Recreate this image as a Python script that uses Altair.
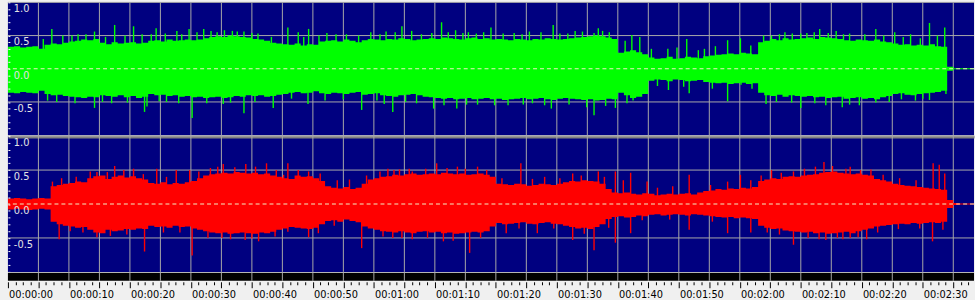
import json
import altair as alt
import pandas as pd

# ---------------- data ----------------
T0 = -5  # first second covered by the envelope arrays (one value per second)

GREEN_HI = [
    0.33, 0.34, 0.32, 0.33, 0.34, 0.30, 0.36, 0.38, 0.37, 0.39,
    0.41, 0.42, 0.44, 0.43, 0.45, 0.39, 0.37, 0.40, 0.38, 0.39,
    0.40, 0.38, 0.39, 0.42, 0.43, 0.41, 0.44, 0.42, 0.43, 0.44,
    0.43, 0.44, 0.46, 0.48, 0.49, 0.48, 0.50, 0.49, 0.48, 0.47,
    0.45, 0.44, 0.42, 0.39, 0.38, 0.37, 0.36, 0.38, 0.35, 0.37,
    0.36, 0.41, 0.42, 0.43, 0.41, 0.44, 0.42, 0.40, 0.43, 0.45,
    0.44, 0.43, 0.45, 0.44, 0.46, 0.45, 0.43, 0.44, 0.45, 0.46,
    0.45, 0.47, 0.46, 0.45, 0.44, 0.46, 0.47, 0.45, 0.46, 0.44,
    0.45, 0.44, 0.43, 0.45, 0.44, 0.43, 0.45, 0.44, 0.46, 0.45,
    0.44, 0.45, 0.46, 0.47, 0.48, 0.49, 0.50, 0.49, 0.47, 0.45,
    0.24, 0.26, 0.28, 0.25, 0.22, 0.17, 0.15, 0.16, 0.18, 0.15,
    0.16, 0.18, 0.17, 0.16, 0.19, 0.20, 0.21, 0.22, 0.23, 0.22,
    0.24, 0.23, 0.22, 0.40, 0.42, 0.45, 0.43, 0.46, 0.44, 0.45,
    0.46, 0.47, 0.45, 0.48, 0.47, 0.46, 0.45, 0.43, 0.42, 0.44,
    0.43, 0.42, 0.44, 0.41, 0.40, 0.38, 0.36, 0.37, 0.35, 0.36,
    0.35, 0.37, 0.34, 0.33, 0.03, 0.008, 0.006, 0.006, 0.006,
]
GREEN_LO = [
    -0.36, -0.37, -0.35, -0.36, -0.37, -0.33, -0.38, -0.40, -0.39, -0.41,
    -0.42, -0.43, -0.44, -0.42, -0.43, -0.40, -0.41, -0.42, -0.40, -0.43,
    -0.41, -0.44, -0.42, -0.38, -0.40, -0.39, -0.41, -0.40, -0.42, -0.41,
    -0.43, -0.42, -0.44, -0.43, -0.42, -0.44, -0.43, -0.41, -0.42, -0.40,
    -0.41, -0.40, -0.42, -0.41, -0.39, -0.38, -0.36, -0.35, -0.37, -0.36,
    -0.34, -0.37, -0.38, -0.36, -0.37, -0.38, -0.36, -0.35, -0.39, -0.38,
    -0.37, -0.40, -0.41, -0.42, -0.40, -0.39, -0.38, -0.40, -0.42, -0.43,
    -0.44, -0.45, -0.44, -0.46, -0.45, -0.44, -0.46, -0.45, -0.44, -0.46,
    -0.45, -0.47, -0.46, -0.45, -0.44, -0.46, -0.45, -0.44, -0.46, -0.47,
    -0.45, -0.44, -0.45, -0.46, -0.47, -0.46, -0.48, -0.47, -0.45, -0.46,
    -0.36, -0.40, -0.44, -0.42, -0.38, -0.18, -0.16, -0.17, -0.19, -0.16,
    -0.17, -0.19, -0.18, -0.17, -0.20, -0.21, -0.22, -0.21, -0.23, -0.22,
    -0.21, -0.23, -0.22, -0.36, -0.40, -0.41, -0.39, -0.42, -0.40, -0.41,
    -0.42, -0.41, -0.43, -0.42, -0.44, -0.43, -0.42, -0.45, -0.44, -0.43,
    -0.45, -0.44, -0.46, -0.43, -0.41, -0.38, -0.37, -0.39, -0.40, -0.38,
    -0.37, -0.36, -0.35, -0.33, -0.03, -0.008, -0.006, -0.006, -0.006,
]
RED_HI = [
    0.08, 0.09, 0.08, 0.07, 0.08, 0.09, 0.08, 0.26, 0.28, 0.30,
    0.31, 0.33, 0.32, 0.38, 0.41, 0.42, 0.37, 0.40, 0.42, 0.39,
    0.41, 0.38, 0.36, 0.31, 0.30, 0.32, 0.29, 0.31, 0.30, 0.32,
    0.34, 0.38, 0.42, 0.44, 0.45, 0.46, 0.45, 0.47, 0.46, 0.45,
    0.46, 0.44, 0.45, 0.42, 0.40, 0.38, 0.37, 0.42, 0.40, 0.41,
    0.38, 0.34, 0.26, 0.24, 0.23, 0.25, 0.22, 0.24, 0.30, 0.36,
    0.38, 0.40, 0.41, 0.43, 0.42, 0.44, 0.45, 0.43, 0.44, 0.45,
    0.44, 0.46, 0.45, 0.44, 0.45, 0.43, 0.44, 0.45, 0.43, 0.40,
    0.30, 0.29, 0.28, 0.30, 0.29, 0.27, 0.28, 0.30, 0.29, 0.28,
    0.30, 0.32, 0.34, 0.33, 0.35, 0.34, 0.33, 0.30, 0.22, 0.17,
    0.16, 0.17, 0.15, 0.14, 0.16, 0.15, 0.13, 0.14, 0.15, 0.14,
    0.15, 0.16, 0.14, 0.17, 0.19, 0.20, 0.22, 0.21, 0.23, 0.22,
    0.24, 0.23, 0.25, 0.34, 0.36, 0.38, 0.37, 0.40, 0.41, 0.40,
    0.42, 0.43, 0.44, 0.46, 0.47, 0.48, 0.46, 0.45, 0.44, 0.45,
    0.43, 0.42, 0.37, 0.35, 0.33, 0.30, 0.28, 0.27, 0.26, 0.25,
    0.24, 0.23, 0.22, 0.21, 0.06, 0.015, 0.006, 0.006, 0.006,
]
RED_LO = [
    -0.08, -0.07, -0.08, -0.09, -0.08, -0.07, -0.08, -0.26, -0.30, -0.32,
    -0.33, -0.35, -0.34, -0.38, -0.42, -0.43, -0.38, -0.40, -0.39, -0.37,
    -0.38, -0.36, -0.37, -0.32, -0.34, -0.33, -0.35, -0.32, -0.34, -0.33,
    -0.36, -0.38, -0.40, -0.42, -0.43, -0.42, -0.44, -0.43, -0.42, -0.43,
    -0.44, -0.42, -0.43, -0.41, -0.38, -0.36, -0.34, -0.35, -0.36, -0.37,
    -0.35, -0.30, -0.25, -0.24, -0.26, -0.23, -0.25, -0.27, -0.33, -0.36,
    -0.38, -0.40, -0.41, -0.42, -0.40, -0.42, -0.43, -0.41, -0.40, -0.42,
    -0.41, -0.43, -0.42, -0.44, -0.43, -0.42, -0.41, -0.42, -0.40, -0.33,
    -0.28, -0.30, -0.29, -0.28, -0.27, -0.29, -0.30, -0.28, -0.27, -0.29,
    -0.30, -0.32, -0.34, -0.36, -0.35, -0.37, -0.34, -0.30, -0.22, -0.19,
    -0.18, -0.20, -0.19, -0.17, -0.18, -0.16, -0.15, -0.17, -0.16, -0.15,
    -0.16, -0.17, -0.15, -0.16, -0.17, -0.18, -0.19, -0.20, -0.19, -0.21,
    -0.20, -0.21, -0.22, -0.32, -0.35, -0.37, -0.36, -0.39, -0.40, -0.41,
    -0.42, -0.41, -0.43, -0.42, -0.44, -0.43, -0.42, -0.41, -0.43, -0.40,
    -0.38, -0.36, -0.33, -0.32, -0.31, -0.30, -0.29, -0.30, -0.28, -0.29,
    -0.28, -0.27, -0.28, -0.26, -0.06, -0.015, -0.006, -0.006, -0.006,
]

# isolated peaks (seconds, amplitude)
GREEN_SPIKE_T = [
    2.2, 4.0, 6.5, 9.2, 12.5, 15.6, 17.0, 19.3, 22.7, 24.7, 27.1, 29.3, 31.8,
    33.7, 36.0, 40.9, 42.6, 44.3, 47.3, 50.5, 54.5, 57.0, 59.6, 61.2, 64.5,
    66.1, 68.4, 70.5, 73.0, 74.2, 78.0, 80.5, 84.4, 85.5, 88.0, 91.1, 91.8,
    92.5, 97.3, 98.6, 103.2, 106.3, 108.2, 109.2, 113.0, 115.1, 116.8, 120.2,
    122.4, 125.0, 126.0, 128.1, 130.8, 133.0, 137.3, 140.4, 143.0, 146.1, 148.6,
    0.8, 5.5, 7.8, 11.0, 14.2, 18.5, 20.8, 23.5, 26.0, 28.3, 30.5, 32.6, 35.0,
    38.2, 43.5, 46.0, 48.8, 52.5, 56.0, 58.5, 62.8, 67.2, 69.6, 71.8, 76.2,
    79.3, 82.4, 86.8, 89.2, 93.6, 96.2, 100.5, 104.7, 111.0, 118.9, 121.5,
    123.6, 127.2, 129.5, 132.0, 135.5, 138.6, 141.8, 144.6, 147.4,
    3.0, 9.2, 12.0, 17.4, 17.8, 21.0, 25.2, 30.3, 33.7, 38.5, 44.2, 47.0,
    53.0, 56.7, 58.1, 62.0, 64.8, 68.6, 72.0, 77.0, 81.0, 84.1, 89.9, 91.1,
    94.6, 97.5, 103.3, 106.7, 113.0, 115.2, 119.3, 125.0, 129.1, 131.8, 134.6,
    137.3, 143.8, 146.1, 148.8,
    1.5, 6.0, 10.5, 14.6, 19.8, 23.0, 27.6, 31.5, 35.5, 41.5, 50.0, 55.5, 60.2,
    66.5, 70.2, 74.8, 79.5, 83.0, 87.0, 93.0, 96.5, 101.5, 105.8, 110.5, 117.0,
    121.0, 123.5, 127.3, 133.0, 139.5, 141.5, 145.0,
]
GREEN_SPIKE_V = [
    0.60, 0.50, 0.52, 0.56, 0.66, 0.64, 0.52, 0.61, 0.57, 0.60, 0.60, 0.55, 0.57,
    0.56, 0.53, 0.62, 0.55, 0.60, 0.54, 0.52, 0.55, 0.56, 0.64, 0.57, 0.54,
    0.70, 0.58, 0.55, 0.55, 0.62, 0.54, 0.56, 0.66, 0.53, 0.57, 0.54, 0.61,
    0.57, 0.51, 0.48, 0.30, 0.45, 0.28, 0.30, 0.43, 0.46, 0.35, 0.50,
    0.55, 0.53, 0.54, 0.60, 0.57, 0.53, 0.60, 0.55, 0.52, 0.69, 0.62,
    0.45, 0.50, 0.52, 0.48, 0.50, 0.52, 0.53, 0.52, 0.55, 0.57, 0.58, 0.56, 0.54,
    0.48, 0.48, 0.50, 0.52, 0.50, 0.52, 0.55, 0.52, 0.55, 0.54, 0.53, 0.53,
    0.52, 0.55, 0.53, 0.56, 0.55, 0.42, 0.30, 0.32, 0.34, 0.50, 0.52,
    0.53, 0.55, 0.54, 0.52, 0.52, 0.50, 0.48, 0.46, 0.50,
    -0.50, -0.59, -0.52, -0.65, -0.57, -0.50, -0.74, -0.53, -0.67, -0.59, -0.53, -0.48,
    -0.62, -0.53, -0.65, -0.52, -0.60, -0.60, -0.54, -0.55, -0.52, -0.60, -0.58, -0.70,
    -0.59, -0.48, -0.32, -0.37, -0.49, -0.24, -0.53, -0.59, -0.55, -0.58, -0.55,
    -0.51, -0.48, -0.47, -0.38,
    -0.48, -0.52, -0.50, -0.51, -0.49, -0.52, -0.52, -0.51, -0.50, -0.45, -0.46, -0.48, -0.50,
    -0.55, -0.54, -0.55, -0.54, -0.55, -0.54, -0.56, -0.52, -0.26, -0.27, -0.30, -0.30,
    -0.50, -0.51, -0.52, -0.54, -0.50, -0.46, -0.45,
]
RED_SPIKE_T = [
    2.3, 9.6, 12.5, 15.6, 19.4, 22.6, 24.8, 30.3, 34.0, 37.4, 40.2, 40.9, 42.6,
    44.3, 49.0, 51.0, 57.3, 59.2, 61.3, 65.3, 68.7, 72.0, 79.1, 83.0, 87.6,
    91.8, 94.6, 95.9, 97.1, 99.8, 106.7, 113.0, 115.1, 116.8, 120.2, 123.8,
    128.8, 133.1, 136.5, 146.7, 147.7, 148.6,
    3.8, 6.2, 8.5, 11.3, 14.0, 17.2, 21.0, 26.3, 28.2, 29.4, 32.2, 35.6, 39.0,
    46.2, 53.8, 56.0, 58.3, 60.8, 63.5, 67.0, 70.0, 73.5, 76.0, 81.0, 85.5,
    89.0, 92.8, 101.5, 104.0, 110.2, 118.5, 121.8, 125.6, 127.4, 130.2, 132.4,
    134.8, 138.5, 141.2, 143.9,
    3.4, 9.6, 17.4, 25.2, 30.1, 33.9, 36.1, 40.9, 44.3, 45.9, 53.0, 58.1, 61.3,
    66.4, 68.0, 70.7, 76.7, 81.8, 87.6, 91.1, 94.6, 97.1, 106.7, 113.0, 116.8,
    123.8, 129.1, 131.9, 133.1, 135.8, 146.6, 148.3,
    5.2, 7.3, 11.8, 14.5, 20.5, 23.2, 27.8, 31.5, 35.0, 38.8, 48.5, 56.5, 59.6,
    63.8, 72.5, 78.8, 84.5, 89.5, 93.5, 99.0, 103.5, 110.5, 119.5, 121.5, 126.2,
    128.0, 131.0, 134.4, 137.6, 141.0, 144.5,
]
RED_SPIKE_V = [
    0.33, 0.47, 0.56, 0.52, 0.52, 0.50, 0.50, 0.59, 0.59, 0.60, 0.43, 0.60, 0.50,
    0.48, 0.35, 0.36, 0.52, 0.51, 0.48, 0.60, 0.55, 0.55, 0.60, 0.40, 0.45,
    0.48, 0.48, 0.35, 0.46, 0.33, 0.43, 0.33, 0.43, 0.35, 0.50, 0.48,
    0.62, 0.55, 0.51, 0.60, 0.58, 0.45,
    0.38, 0.40, 0.48, 0.47, 0.50, 0.44, 0.40, 0.48, 0.53, 0.55, 0.54, 0.55, 0.50,
    0.45, 0.42, 0.48, 0.50, 0.52, 0.52, 0.53, 0.52, 0.50, 0.38, 0.37, 0.38,
    0.42, 0.40, 0.24, 0.26, 0.28, 0.42, 0.46, 0.52, 0.55, 0.56, 0.52,
    0.50, 0.43, 0.38, 0.35,
    -0.52, -0.49, -0.70, -0.76, -0.50, -0.53, -0.55, -0.41, -0.49, -0.43, -0.65, -0.50, -0.52,
    -0.55, -0.54, -0.72, -0.43, -0.43, -0.53, -0.68, -0.57, -0.43, -0.38, -0.43, -0.42,
    -0.60, -0.53, -0.52, -0.50, -0.52, -0.55, -0.38,
    -0.40, -0.42, -0.47, -0.45, -0.42, -0.42, -0.50, -0.52, -0.51, -0.48, -0.32, -0.48, -0.50,
    -0.50, -0.50, -0.36, -0.36, -0.44, -0.35, -0.24, -0.23, -0.26, -0.42, -0.45, -0.50,
    -0.52, -0.50, -0.49, -0.42, -0.37, -0.36,
]

X_DOMAIN = [-5, 153.4]
GRID_T = [0, 5, 10, 15, 20, 25, 30, 35, 40, 45, 50, 55, 60, 65, 70, 75, 80, 85,
          90, 95, 100, 105, 110, 115, 120, 125, 130, 135, 140, 145, 150]
GRID_Y = [1.0, 0.5, -0.5]
ZERO_Y = [0.0]
Y_TICKS = [1.0, 0.9, 0.8, 0.7, 0.6, 0.5, 0.4, 0.3, 0.2, 0.1, 0.0,
           -0.1, -0.2, -0.3, -0.4, -0.5, -0.6, -0.7, -0.8, -0.9, -1.0]
Y_LABEL_VALUES = [1.0, 0.5, 0.0, -0.5]
Y_LABELS = ["1.0", "0.5", "0.0", "-0.5"]
X_TICKS = [-5 + 1.25 * i for i in range(128)]
TIME_LABELS = ["00:00:00", "00:00:10", "00:00:20", "00:00:30", "00:00:40",
               "00:00:50", "00:01:00", "00:01:10", "00:01:20", "00:01:30",
               "00:01:40", "00:01:50", "00:02:00", "00:02:10", "00:02:20",
               "00:02:30"]

# ---------------- styling ----------------
NAVY = "#000080"
GRID = "#A8A8A8"
FONT = "Tahoma, DejaVu Sans Condensed, Liberation Sans, sans-serif"
W = 975

xs = alt.Scale(domain=X_DOMAIN, nice=False, zero=False)
ys = alt.Scale(domain=[-1, 1], nice=False, zero=False)

# left ruler: small white ticks every 0.1, drawn above the waveform
yaxis = alt.Axis(
    orient="left", values=Y_TICKS, labels=False, title=None,
    domain=False, grid=False, ticks=True, tickColor="#FFFFFF", tickSize=2,
    tickWidth=1, offset=-2, minExtent=0, zindex=1,
)

# gray separator bar drawn as the top edge of the lower panel
x_sep_axis = alt.Axis(
    orient="top", title=None, domain=True, domainColor="#808080",
    domainWidth=3, offset=-0.5, ticks=False, labels=False, grid=False,
)

x_label_expr = (
    "(datum.value >= 0 && datum.value <= 150 && datum.value % 10 == 0) ? "
    + json.dumps(TIME_LABELS) + "[datum.value / 10] : ''"
)
x_ruler_axis = alt.Axis(
    orient="bottom", values=X_TICKS, labelExpr=x_label_expr, title=None,
    domain=False, grid=False, tickColor="#000000", tickWidth=1,
    tickSize={"condition": {"test": "datum.value % 5 == 0", "value": 6}, "value": 3},
    offset=1, labelPadding=1, labelBaseline="top", labelAlign="center",
    labelOffset=-8, labelColor="#000000", labelFont=FONT, labelFontSize=11,
    labelFlush=False, labelOverlap=False, labelBound=False,
)


def channel_frame(hi, lo):
    t = [T0 + i for i in range(len(hi))]
    t.append(T0 + len(hi))  # close the last step
    return pd.DataFrame({"t": t, "hi": hi + [hi[-1]], "lo": lo + [lo[-1]]})


def panel(hi, lo, spike_t, spike_v, color, xaxis, height):
    env = channel_frame(hi, lo)
    spikes = pd.DataFrame({"t": spike_t, "v": spike_v, "base": [0.0] * len(spike_t)})
    vgrid = alt.Chart(pd.DataFrame({"t": GRID_T})).mark_rule(
        color=GRID, strokeWidth=1
    ).encode(x=alt.X("t:Q", scale=xs, axis=xaxis))
    hgrid = alt.Chart(pd.DataFrame({"y": GRID_Y})).mark_rule(
        color=GRID, strokeWidth=1
    ).encode(y=alt.Y("y:Q", scale=ys, axis=yaxis))
    body = alt.Chart(env).mark_area(
        color=color, interpolate="step-after", clip=True, opacity=1
    ).encode(
        x=alt.X("t:Q", scale=xs, axis=xaxis),
        y=alt.Y("hi:Q", scale=ys, axis=yaxis),
        y2="lo:Q",
    )
    peaks = alt.Chart(spikes).mark_rule(color=color, strokeWidth=1.4).encode(
        x=alt.X("t:Q", scale=xs, axis=xaxis),
        y=alt.Y("v:Q", scale=ys, axis=yaxis),
        y2="base:Q",
    )
    zero = alt.Chart(pd.DataFrame({"y": ZERO_Y})).mark_rule(
        color="#F2F2C4", strokeWidth=1, strokeDash=[4, 3]
    ).encode(y=alt.Y("y:Q", scale=ys, axis=yaxis))
    labels = alt.Chart(
        pd.DataFrame({"y": Y_LABEL_VALUES, "label": Y_LABELS})
    ).mark_text(
        align="left", baseline="middle", dx=6, dy=7, color="#E4E4E4",
        font=FONT, fontSize=11,
    ).encode(
        x=alt.value(0),
        y=alt.Y("y:Q", scale=ys, axis=yaxis),
        text="label:N",
    )
    return alt.layer(vgrid, hgrid, body, peaks, zero, labels).properties(
        width=W, height=height, view=alt.ViewBackground(fill=NAVY, strokeWidth=0)
    )


top = panel(GREEN_HI, GREEN_LO, GREEN_SPIKE_T, GREEN_SPIKE_V, "#00FF00", None, 134)
bottom = panel(RED_HI, RED_LO, RED_SPIKE_T, RED_SPIKE_V, "#FF0000", x_sep_axis, 137)

ruler = alt.Chart(pd.DataFrame({"t": GRID_T})).mark_rule(color=GRID, strokeWidth=1).encode(
    x=alt.X("t:Q", scale=xs, axis=x_ruler_axis)
).properties(width=W, height=8, view=alt.ViewBackground(fill="#000000", strokeWidth=0))

chart = alt.vconcat(top, bottom, ruler, spacing=1, bounds="flush").properties(
    background="#F0F0F0", padding=0
).configure_view(strokeWidth=0)

chart.save("out.html", embed_options={"renderer": "svg", "actions": False})
